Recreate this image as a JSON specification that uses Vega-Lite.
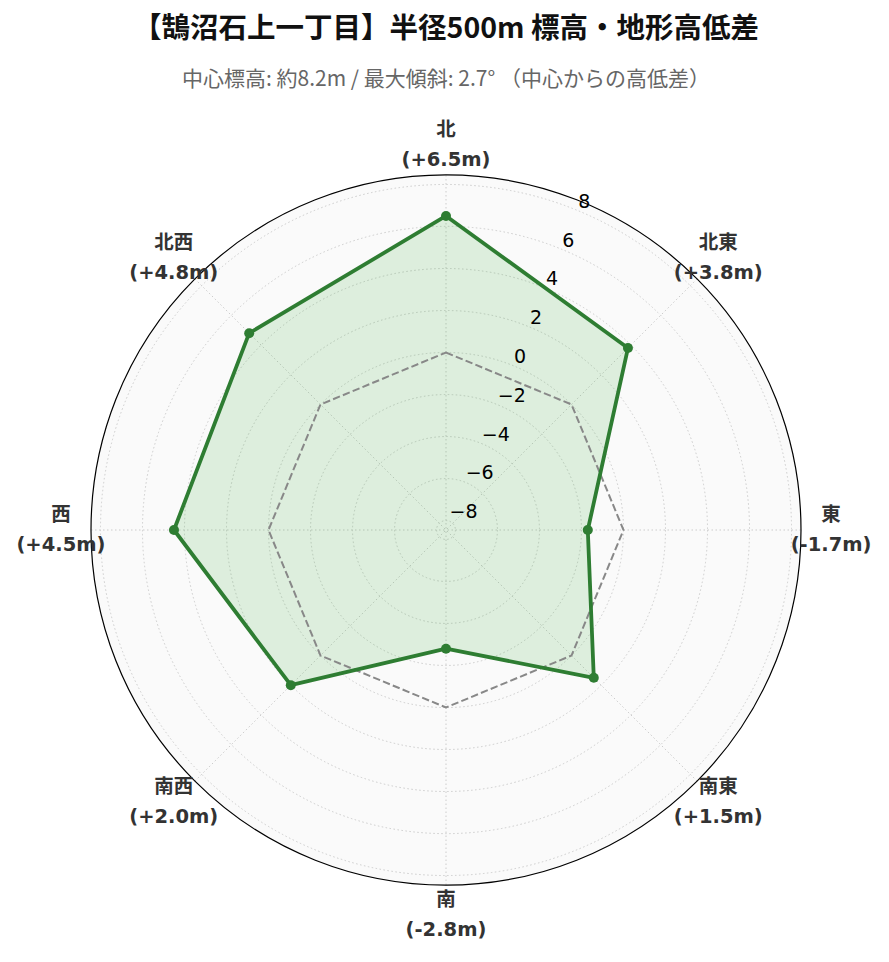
{
  "$schema": "https://vega.github.io/schema/vega-lite/v6.json",
  "width": 710,
  "height": 710,
  "autosize": {"type": "none"},
  "padding": {"left": 91, "top": 175, "right": 88, "bottom": 77},
  "background": "white",
  "config": {"view": {"stroke": null}},
  "title": {
    "text": "【鵠沼石上一丁目】半径500m 標高・地形高低差",
    "subtitle": "中心標高: 約8.2m / 最大傾斜: 2.7° （中心からの高低差）",
    "font": "Noto Sans CJK JP",
    "fontSize": 28.5,
    "fontWeight": "bold",
    "color": "#111111",
    "subtitleFont": "Noto Sans CJK JP",
    "subtitleFontSize": 21,
    "subtitleColor": "#666666",
    "subtitlePadding": 25,
    "offset": 30,
    "anchor": "middle",
    "frame": "group"
  },
  "datasets": {
    "dirs": [
      {"ord": 0, "dir": "北", "deg": 0, "diff": 6.5, "label": "(+6.5m)"},
      {"ord": 1, "dir": "北東", "deg": 45, "diff": 3.8, "label": "(+3.8m)"},
      {"ord": 2, "dir": "東", "deg": 90, "diff": -1.7, "label": "(-1.7m)"},
      {"ord": 3, "dir": "南東", "deg": 135, "diff": 1.5, "label": "(+1.5m)"},
      {"ord": 4, "dir": "南", "deg": 180, "diff": -2.8, "label": "(-2.8m)"},
      {"ord": 5, "dir": "南西", "deg": 225, "diff": 2.0, "label": "(+2.0m)"},
      {"ord": 6, "dir": "西", "deg": 270, "diff": 4.5, "label": "(+4.5m)"},
      {"ord": 7, "dir": "北西", "deg": 315, "diff": 4.8, "label": "(+4.8m)"}
    ],
    "rticks": [
      {"v": -8, "t": "−8"},
      {"v": -6, "t": "−6"},
      {"v": -4, "t": "−4"},
      {"v": -2, "t": "−2"},
      {"v": 0, "t": "0"},
      {"v": 2, "t": "2"},
      {"v": 4, "t": "4"},
      {"v": 6, "t": "6"},
      {"v": 8, "t": "8"}
    ],
    "edge": [{"v": 8.45}]
  },
  "layer": [
    {
      "data": {"name": "edge"},
      "transform": [{"calculate": "datum.v + 8.45", "as": "rho"}],
      "mark": {"type": "point", "shape": "circle", "filled": true, "fill": "#fafafa", "opacity": 1, "strokeWidth": 0},
      "encoding": {
        "x": {"datum": 0, "type": "quantitative", "scale": {"domain": [-16.9, 16.9], "nice": false, "zero": false}, "axis": null},
        "y": {"datum": 0, "type": "quantitative", "scale": {"domain": [-16.9, 16.9], "nice": false, "zero": false}, "axis": null},
        "size": {"field": "rho", "type": "quantitative", "scale": {"type": "pow", "exponent": 2, "domain": [0, 16.9], "range": [0, 504100], "zero": true}, "legend": null}
      }
    },
    {
      "data": {"name": "rticks"},
      "transform": [{"calculate": "datum.v + 8.45", "as": "rho"}],
      "mark": {"type": "point", "shape": "circle", "filled": false, "stroke": "#cccccc", "opacity": 1, "strokeWidth": 1, "strokeDash": [1.5, 2.5]},
      "encoding": {
        "x": {"datum": 0, "type": "quantitative", "scale": {"domain": [-16.9, 16.9], "nice": false, "zero": false}, "axis": null},
        "y": {"datum": 0, "type": "quantitative", "scale": {"domain": [-16.9, 16.9], "nice": false, "zero": false}, "axis": null},
        "size": {"field": "rho", "type": "quantitative", "scale": {"type": "pow", "exponent": 2, "domain": [0, 16.9], "range": [0, 504100], "zero": true}, "legend": null}
      }
    },
    {
      "data": {"name": "dirs"},
      "transform": [
        {"calculate": "16.9 * sin(datum.deg * PI / 180)", "as": "ex"},
        {"calculate": "16.9 * cos(datum.deg * PI / 180)", "as": "ey"}
      ],
      "mark": {"type": "rule", "stroke": "#cccccc", "strokeWidth": 1, "strokeDash": [1.5, 2.5]},
      "encoding": {
        "x": {"field": "ex", "type": "quantitative", "scale": {"domain": [-16.9, 16.9], "nice": false, "zero": false}, "axis": null},
        "y": {"field": "ey", "type": "quantitative", "scale": {"domain": [-16.9, 16.9], "nice": false, "zero": false}, "axis": null},
        "x2": {"datum": 0},
        "y2": {"datum": 0}
      }
    },
    {
      "data": {"name": "edge"},
      "transform": [{"calculate": "datum.v + 8.45", "as": "rho"}],
      "mark": {"type": "point", "shape": "circle", "filled": false, "stroke": "#000000", "opacity": 1, "strokeWidth": 1.2},
      "encoding": {
        "x": {"datum": 0, "type": "quantitative", "scale": {"domain": [-16.9, 16.9], "nice": false, "zero": false}, "axis": null},
        "y": {"datum": 0, "type": "quantitative", "scale": {"domain": [-16.9, 16.9], "nice": false, "zero": false}, "axis": null},
        "size": {"field": "rho", "type": "quantitative", "scale": {"type": "pow", "exponent": 2, "domain": [0, 16.9], "range": [0, 504100], "zero": true}, "legend": null}
      }
    },
    {
      "data": {"name": "dirs"},
      "transform": [
        {"calculate": "datum.diff + 8.45", "as": "rho"},
        {"calculate": "datum.rho * sin(datum.deg * PI / 180)", "as": "px"},
        {"calculate": "datum.rho * cos(datum.deg * PI / 180)", "as": "py"}
      ],
      "mark": {"type": "line", "interpolate": "linear-closed", "fill": "#4caf50", "fillOpacity": 0.17, "stroke": "#2e7d32", "strokeOpacity": 0},
      "encoding": {
        "x": {"field": "px", "type": "quantitative", "scale": {"domain": [-16.9, 16.9], "nice": false, "zero": false}, "axis": null},
        "y": {"field": "py", "type": "quantitative", "scale": {"domain": [-16.9, 16.9], "nice": false, "zero": false}, "axis": null},
        "order": {"field": "ord", "type": "quantitative"}
      }
    },
    {
      "data": {"name": "dirs"},
      "transform": [
        {"calculate": "8.45 * sin(datum.deg * PI / 180)", "as": "zx"},
        {"calculate": "8.45 * cos(datum.deg * PI / 180)", "as": "zy"}
      ],
      "mark": {"type": "line", "interpolate": "linear-closed", "stroke": "#888888", "strokeWidth": 2, "strokeDash": [7.4, 3.2]},
      "encoding": {
        "x": {"field": "zx", "type": "quantitative", "scale": {"domain": [-16.9, 16.9], "nice": false, "zero": false}, "axis": null},
        "y": {"field": "zy", "type": "quantitative", "scale": {"domain": [-16.9, 16.9], "nice": false, "zero": false}, "axis": null},
        "order": {"field": "ord", "type": "quantitative"}
      }
    },
    {
      "data": {"name": "dirs"},
      "transform": [
        {"calculate": "datum.diff + 8.45", "as": "rho"},
        {"calculate": "datum.rho * sin(datum.deg * PI / 180)", "as": "px"},
        {"calculate": "datum.rho * cos(datum.deg * PI / 180)", "as": "py"}
      ],
      "mark": {"type": "line", "interpolate": "linear-closed", "stroke": "#2e7d32", "strokeWidth": 3.8, "strokeJoin": "round"},
      "encoding": {
        "x": {"field": "px", "type": "quantitative", "scale": {"domain": [-16.9, 16.9], "nice": false, "zero": false}, "axis": null},
        "y": {"field": "py", "type": "quantitative", "scale": {"domain": [-16.9, 16.9], "nice": false, "zero": false}, "axis": null},
        "order": {"field": "ord", "type": "quantitative"}
      }
    },
    {
      "data": {"name": "dirs"},
      "transform": [
        {"calculate": "datum.diff + 8.45", "as": "rho"},
        {"calculate": "datum.rho * sin(datum.deg * PI / 180)", "as": "px"},
        {"calculate": "datum.rho * cos(datum.deg * PI / 180)", "as": "py"}
      ],
      "mark": {"type": "circle", "size": 100, "color": "#2e7d32", "opacity": 1},
      "encoding": {
        "x": {"field": "px", "type": "quantitative", "scale": {"domain": [-16.9, 16.9], "nice": false, "zero": false}, "axis": null},
        "y": {"field": "py", "type": "quantitative", "scale": {"domain": [-16.9, 16.9], "nice": false, "zero": false}, "axis": null}
      }
    },
    {
      "data": {"name": "rticks"},
      "transform": [
        {"calculate": "datum.v + 8.45", "as": "rho"},
        {"calculate": "datum.rho * sin(22.5 * PI / 180)", "as": "tx"},
        {"calculate": "datum.rho * cos(22.5 * PI / 180)", "as": "ty"}
      ],
      "mark": {"type": "text", "align": "left", "baseline": "alphabetic", "dy": -3, "font": "DejaVu Sans", "fontSize": 19, "color": "#000000"},
      "encoding": {
        "x": {"field": "tx", "type": "quantitative", "scale": {"domain": [-16.9, 16.9], "nice": false, "zero": false}, "axis": null},
        "y": {"field": "ty", "type": "quantitative", "scale": {"domain": [-16.9, 16.9], "nice": false, "zero": false}, "axis": null},
        "text": {"field": "t", "type": "nominal"}
      }
    },
    {
      "data": {"name": "dirs"},
      "transform": [
        {"calculate": "18.33 * sin(datum.deg * PI / 180)", "as": "lx"},
        {"calculate": "18.33 * cos(datum.deg * PI / 180)", "as": "ly"}
      ],
      "mark": {"type": "text", "align": "center", "baseline": "middle", "dy": -15, "font": "DejaVu Sans, Noto Sans CJK JP", "fontWeight": "bold", "fontSize": 19.5, "color": "#333333"},
      "encoding": {
        "x": {"field": "lx", "type": "quantitative", "scale": {"domain": [-16.9, 16.9], "nice": false, "zero": false}, "axis": null},
        "y": {"field": "ly", "type": "quantitative", "scale": {"domain": [-16.9, 16.9], "nice": false, "zero": false}, "axis": null},
        "text": {"field": "dir", "type": "nominal"}
      }
    },
    {
      "data": {"name": "dirs"},
      "transform": [
        {"calculate": "18.33 * sin(datum.deg * PI / 180)", "as": "lx"},
        {"calculate": "18.33 * cos(datum.deg * PI / 180)", "as": "ly"}
      ],
      "mark": {"type": "text", "align": "center", "baseline": "middle", "dy": 15, "font": "DejaVu Sans, Noto Sans CJK JP", "fontWeight": "bold", "fontSize": 19.5, "color": "#333333"},
      "encoding": {
        "x": {"field": "lx", "type": "quantitative", "scale": {"domain": [-16.9, 16.9], "nice": false, "zero": false}, "axis": null},
        "y": {"field": "ly", "type": "quantitative", "scale": {"domain": [-16.9, 16.9], "nice": false, "zero": false}, "axis": null},
        "text": {"field": "label", "type": "nominal"}
      }
    }
  ]
}
